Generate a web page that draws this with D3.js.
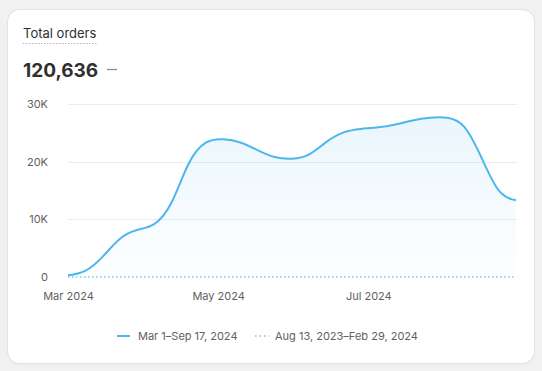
<!DOCTYPE html>
<html>
<head>
<meta charset="utf-8">
<script src="https://cdn.jsdelivr.net/npm/d3@7"></script>
<style>
  html, body { margin: 0; padding: 0; background: #f1f1f1; }
  body { width: 542px; height: 371px; font-family: Inter, "Noto Sans", sans-serif; }
  #card {
    position: absolute; left: 8px; top: 10px; width: 526px; height: 353px;
    background: #fff; border-radius: 12px;
    box-shadow: 0 0 0 1px #e3e3e3, 0 1px 2px rgba(0,0,0,0.08);
  }
  svg { position: absolute; left: 0; top: 0; }
</style>
</head>
<body>
<div id="card"></div>
<div id="chart"></div>
<script>
const startDate = new Date(2024, 2, 1)
// weekly buckets, current period
const orders = [300, 700, 3300, 7000, 8300, 8700, 12000, 20500, 23800, 24000, 23500, 22000, 20600,
  20400, 20900, 23600, 25300, 25700, 25900, 26400, 27200, 27700, 27800, 26900, 20800, 14000, 13300]
// comparison period
const previous = orders.map(() => 0)
const yTicks = [0, 10000, 20000, 30000]
const xTicks = [new Date(2024, 2, 1), new Date(2024, 4, 1), new Date(2024, 6, 1)]
const legendLabels = ['Mar 1–Sep 17, 2024', 'Aug 13, 2023–Feb 29, 2024']
const total = 120636

const width = 542
const height = 371
const margin = { top: 104, right: 26, bottom: 94, left: 68 }
const lineColor = '#4db6ee'
const prevColor = '#9fd3ee'

const dates = orders.map((d, i) => d3.timeDay.offset(startDate, i * 7))

const svg = d3.select('#chart')
  .append('svg')
  .attr('width', width)
  .attr('height', height)

const x = d3.scaleTime()
  .domain([dates[0], dates[dates.length - 1]])
  .range([margin.left, width - margin.right])

const y = d3.scaleLinear()
  .domain([0, 30000])
  .range([height - margin.bottom, margin.top])

// header
svg.append('text')
  .attr('x', 23).attr('y', 38)
  .style('font-size', '13px').style('fill', '#303030')
  .text('Total orders')
svg.append('line')
  .attr('x1', 23).attr('x2', 97).attr('y1', 43.5).attr('y2', 43.5)
  .attr('stroke', '#b5b5b5').attr('stroke-dasharray', '1.5,1.5')

svg.append('text')
  .attr('x', 23).attr('y', 77)
  .style('font-size', '19px').style('font-weight', 650).style('fill', '#303030')
  .text(d3.format(',')(total))
svg.append('line')
  .attr('x1', 107).attr('x2', 117).attr('y1', 69.5).attr('y2', 69.5)
  .attr('stroke', '#8a8a8a').attr('stroke-width', 1.3)

// grid
svg.append('g')
  .selectAll('line')
  .data(yTicks.filter(d => d > 0))
  .join('line')
  .attr('x1', margin.left).attr('x2', width - margin.right + 1)
  .attr('y1', d => Math.round(y(d)) + 0.5).attr('y2', d => Math.round(y(d)) + 0.5)
  .attr('stroke', '#ebebeb')

const yAxis = g => g
  .attr('transform', `translate(${margin.left - 20},0)`)
  .call(d3.axisLeft(y).tickValues(yTicks).tickSize(0).tickPadding(0)
    .tickFormat(d => d === 0 ? '0' : d / 1000 + 'K'))
  .call(g => g.select('.domain').remove())
  .call(g => g.selectAll('text').style('font-size', '11px').style('fill', '#616161')
    .style('font-family', 'Inter, sans-serif'))

const xAxis = g => g
  .attr('transform', `translate(0,${height - margin.bottom})`)
  .call(d3.axisBottom(x).tickValues(xTicks).tickSize(0).tickPadding(15)
    .tickFormat(d3.timeFormat('%b %Y')))
  .call(g => g.select('.domain').remove())
  .call(g => g.selectAll('text').style('font-size', '11px').style('fill', '#616161')
    .style('font-family', 'Inter, sans-serif'))

svg.append('g').call(yAxis)
svg.append('g').call(xAxis)

// area gradient
const defs = svg.append('defs')
const grad = defs.append('linearGradient')
  .attr('id', 'fillGrad').attr('x1', 0).attr('x2', 0).attr('y1', 0).attr('y2', 1)
grad.append('stop').attr('offset', '0%').attr('stop-color', lineColor).attr('stop-opacity', 0.12)
grad.append('stop').attr('offset', '100%').attr('stop-color', lineColor).attr('stop-opacity', 0.01)

const area = d3.area()
  .x((d, i) => x(dates[i]))
  .y0(y(0))
  .y1(d => y(d))
  .curve(d3.curveBasis)

const line = d3.line()
  .x((d, i) => x(dates[i]))
  .y(d => y(d))
  .curve(d3.curveBasis)

svg.append('path')
  .datum(orders)
  .attr('d', area)
  .attr('fill', 'url(#fillGrad)')

svg.append('path')
  .datum(previous)
  .attr('d', line)
  .attr('fill', 'none')
  .attr('stroke', prevColor)
  .attr('stroke-width', 2)
  .attr('stroke-dasharray', '1.5,2.5')

svg.append('path')
  .datum(orders)
  .attr('d', line)
  .attr('fill', 'none')
  .attr('stroke', lineColor)
  .attr('stroke-width', 2)

// legend
const legend = svg.append('g').attr('transform', 'translate(117,336)')
legend.append('line')
  .attr('x1', 0).attr('x2', 13).attr('y1', 0).attr('y2', 0)
  .attr('stroke', lineColor).attr('stroke-width', 2)
legend.append('text')
  .attr('x', 21).attr('y', 4)
  .style('font-size', '11px').style('fill', '#616161')
  .text(legendLabels[0])
legend.append('line')
  .attr('x1', 138).attr('x2', 152).attr('y1', 0).attr('y2', 0)
  .attr('stroke', prevColor).attr('stroke-width', 2).attr('stroke-dasharray', '1.5,3')
legend.append('text')
  .attr('x', 158).attr('y', 4)
  .style('font-size', '11px').style('fill', '#616161')
  .text(legendLabels[1])
</script>
</body>
</html>
